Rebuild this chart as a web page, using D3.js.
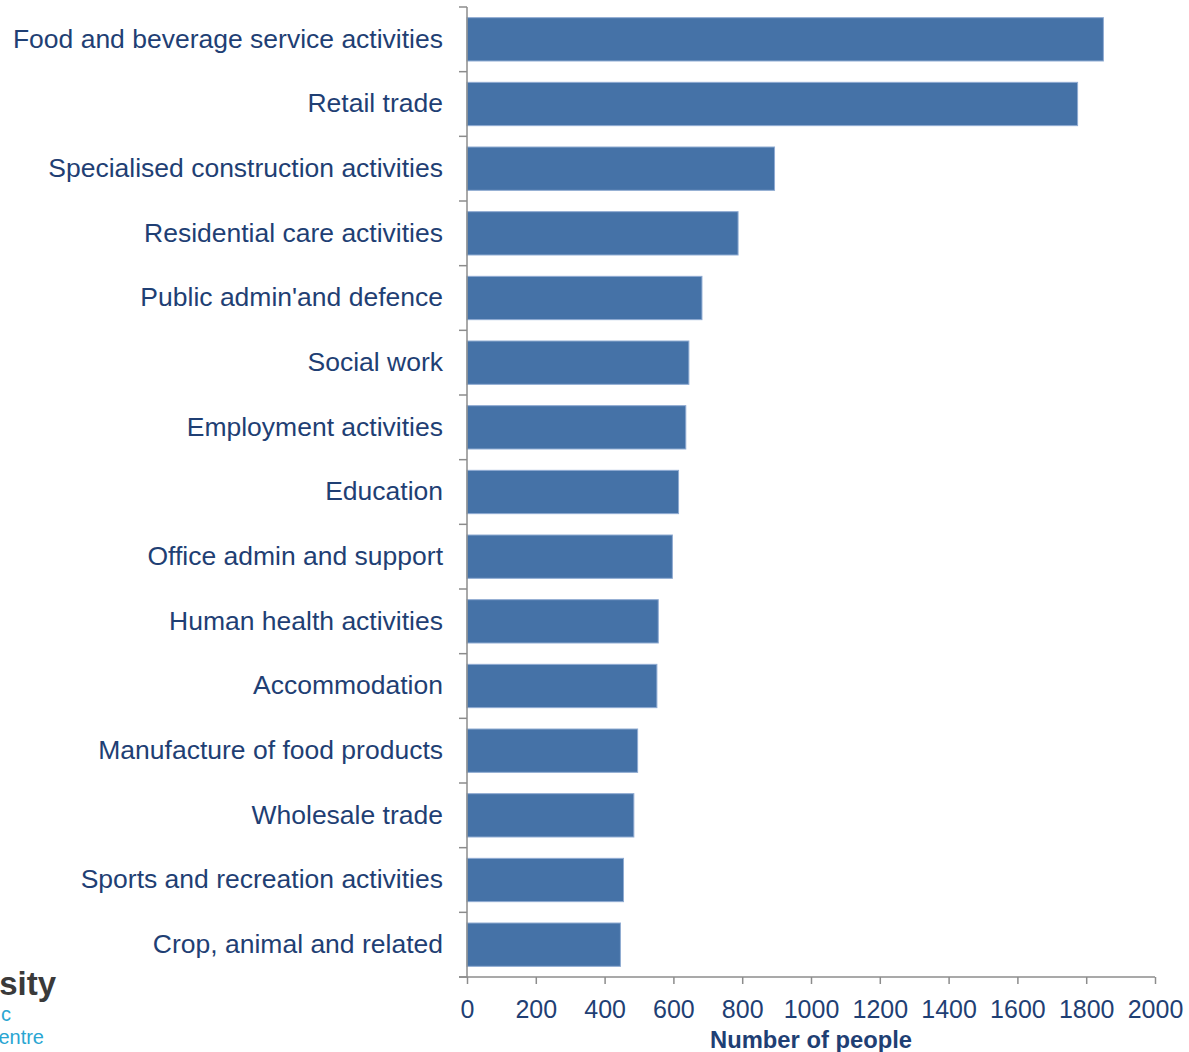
<!DOCTYPE html>
<html>
<head>
<meta charset="utf-8">
<script src="https://cdn.jsdelivr.net/npm/d3@7"></script>
<style>
  body { margin: 0; background: #fff; }
  svg { display: block; font-family: "Liberation Sans", Arial, sans-serif; }
  .cat text { fill: #1f3f74; font-size: 26.5px; }
  .xaxis text { fill: #1f3f74; font-size: 25px; }
  .axisline { stroke: #8c8c8c; stroke-width: 1.5; }
</style>
</head>
<body>
<div id="chart"></div>
<script>
// industries, largest first
const categories = [
  "Food and beverage service activities",
  "Retail trade",
  "Specialised construction activities",
  "Residential care activities",
  "Public admin'and defence",
  "Social work",
  "Employment activities",
  "Education",
  "Office admin and support",
  "Human health activities",
  "Accommodation",
  "Manufacture of food products",
  "Wholesale trade",
  "Sports and recreation activities",
  "Crop, animal and related"
];
const people = [1850, 1775, 894, 788, 683, 645, 636, 615, 597, 556, 552, 496, 485, 455, 446];
const xTicks = [0, 200, 400, 600, 800, 1000, 1200, 1400, 1600, 1800, 2000];
const xTitle = "Number of people";

const width = 1189, height = 1052;
const margin = { top: 7, right: 34, bottom: 75, left: 467 };

const svg = d3.select("#chart").append("svg")
  .attr("width", width)
  .attr("height", height);

const x = d3.scaleLinear()
  .domain([0, 2000])
  .range([margin.left, width - margin.right]);

const y = d3.scaleBand()
  .domain(categories)
  .range([margin.top, height - margin.bottom])
  .paddingInner(0.33)
  .paddingOuter(0.165);

// bars
svg.append("g")
  .selectAll("rect")
  .data(categories)
  .join("rect")
  .attr("x", x(0))
  .attr("y", d => y(d))
  .attr("width", (d, i) => x(people[i]) - x(0))
  .attr("height", y.bandwidth())
  .attr("fill", "#4572a7")
  .attr("stroke", "#8fabd2")
  .attr("stroke-width", 1);

// category labels
const cat = svg.append("g")
  .attr("class", "cat")
  .attr("transform", `translate(${x(0)},0)`)
  .call(d3.axisLeft(y).tickSize(0).tickPadding(24));
cat.select(".domain").remove();

// y axis line + ticks at band edges (Excel style)
const edges = d3.range(categories.length + 1).map(i => margin.top + i * y.step());
svg.append("line").attr("class", "axisline")
  .attr("x1", x(0)).attr("x2", x(0))
  .attr("y1", margin.top).attr("y2", height - margin.bottom);
svg.append("g").selectAll("line")
  .data(edges)
  .join("line")
  .attr("class", "axisline")
  .attr("x1", x(0) - 8).attr("x2", x(0))
  .attr("y1", d => d).attr("y2", d => d);

// x axis
const xa = svg.append("g")
  .attr("class", "xaxis")
  .attr("transform", `translate(0,${height - margin.bottom})`)
  .call(d3.axisBottom(x).tickValues(xTicks).tickSize(7).tickPadding(16).tickFormat(d3.format("d")));
xa.select(".domain").attr("class", "domain axisline").attr("d", `M${x(0) - 8},0H${x(2000)}`);
xa.selectAll(".tick line").attr("class", "axisline");

svg.append("text")
  .attr("x", (x(0) + x(2000)) / 2)
  .attr("y", 1048)
  .attr("text-anchor", "middle")
  .attr("font-size", 23)
  .attr("font-weight", "bold")
  .attr("fill", "#1f3f74")
  .attr("textLength", 202)
  .attr("lengthAdjust", "spacingAndGlyphs")
  .text(xTitle);

// partial logo at bottom-left edge
svg.append("text").attr("x", 56).attr("y", 995).attr("text-anchor", "end")
  .attr("font-size", 33).attr("font-weight", "bold").attr("fill", "#3a3a3a").text("sity");
svg.append("text").attr("x", 11).attr("y", 1021).attr("text-anchor", "end")
  .attr("font-size", 20).attr("fill", "#2aa6d2").text("c");
svg.append("text").attr("x", 44).attr("y", 1044).attr("text-anchor", "end")
  .attr("font-size", 20).attr("fill", "#2aa6d2").text("entre");
</script>
</body>
</html>
